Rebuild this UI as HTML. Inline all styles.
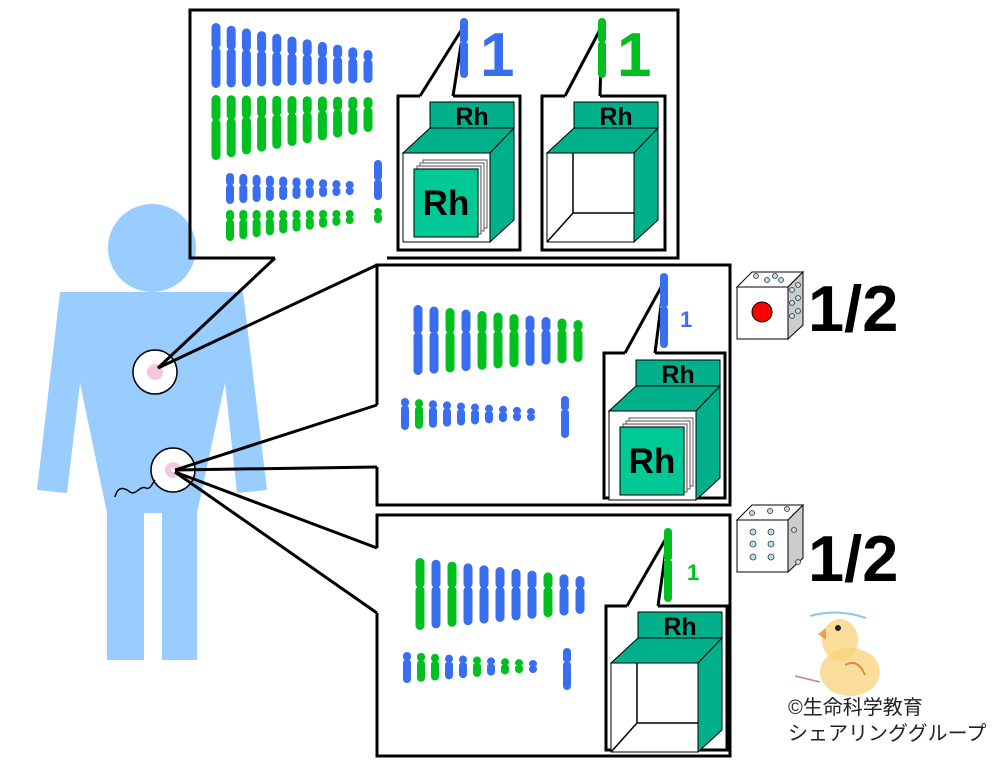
<!DOCTYPE html>
<html><head><meta charset="utf-8"><style>
html,body{margin:0;padding:0;background:#fff;}
svg{display:block;}
</style></head><body>
<svg id="s" width="997" height="769" viewBox="0 0 997 769" xmlns="http://www.w3.org/2000/svg" font-family="Liberation Sans, Noto Sans CJK JP, sans-serif">
<defs>
<g id="cubeFull">
  <rect x="32" y="6" width="84" height="26" fill="#00b08a" stroke="#000" stroke-width="1"/>
  <text x="74" y="29" font-size="25" font-weight="bold" text-anchor="middle">Rh</text>
  <polygon points="5,57 32,32 116,32 92,57" fill="#00b08a" stroke="#000"/>
  <rect x="5" y="57" width="87" height="89" fill="#fff" stroke="#000"/>
  <polygon points="92,57 116,32 116,124 92,146" fill="#00b08a" stroke="#000"/>
  <rect x="25" y="64" width="64" height="68" fill="#fff" stroke="#555"/>
  <rect x="22" y="67" width="64" height="68" fill="#fff" stroke="#555"/>
  <rect x="19" y="70" width="64" height="68" fill="#eee" stroke="#555"/>
  <rect x="16" y="73" width="64" height="68" fill="#00c896" stroke="#000"/>
  <text x="48" y="119" font-size="35" font-weight="bold" text-anchor="middle">Rh</text>
</g>
<g id="cubeEmpty">
  <rect x="32" y="6" width="84" height="26" fill="#00b08a" stroke="#000" stroke-width="1"/>
  <text x="74" y="29" font-size="25" font-weight="bold" text-anchor="middle">Rh</text>
  <rect x="5" y="57" width="87" height="89" fill="#fff" stroke="#000"/>
  <polyline points="31,57 31,117 92,117" fill="none" stroke="#000" stroke-width="1.5"/>
  <line x1="31" y1="117" x2="5" y2="146" stroke="#000" stroke-width="1.5"/>
  <polygon points="5,57 32,32 116,32 92,57" fill="#00b08a" stroke="#000"/>
  <polygon points="92,57 116,32 116,124 92,146" fill="#00b08a" stroke="#000"/>
</g>
</defs>
<g fill="#99ccff">
<circle cx="152" cy="248" r="44"/>
<polygon points="60,292 243,292 267,490 237,493 225,383 197,513 197,660 162,660 162,513 144,513 144,660 107,660 107,513 80,383 67,493 37,490"/>
</g>
<circle cx="155" cy="372" r="22" fill="#fff" stroke="#000" stroke-width="1.5"/>
<circle cx="155" cy="372" r="8" fill="#f6c6dc"/>
<circle cx="173" cy="470" r="22" fill="#fff" stroke="#000" stroke-width="1.5"/>
<circle cx="173" cy="470" r="8" fill="#f6c6dc"/><circle cx="173" cy="470" r="2" fill="#fff"/>
<path d="M115,497 C118,485 125,488 130,492 C136,496 140,485 146,488 C150,490 152,484 155,480" fill="none" stroke="#000" stroke-width="1.5"/>
<g fill="none" stroke="#000" stroke-width="3">
<polyline points="275,258 190,258 190,10 678,10 678,258 387,258"/>
<line x1="275" y1="258" x2="158" y2="368"/>
<line x1="377" y1="265" x2="158" y2="368"/>
<polyline points="377,405 377,265 730,265 730,505 377,505 377,467"/>
<line x1="377" y1="405" x2="175" y2="470"/>
<line x1="377" y1="467" x2="175" y2="470"/>
<polyline points="377,548 377,515 730,515 730,756 377,756 377,613"/>
<line x1="377" y1="548" x2="175" y2="472"/>
<line x1="377" y1="613" x2="175" y2="472"/>
<polyline points="420,96 398,96 398,250 520,250 520,96 453,96"/>
<line x1="420" y1="96" x2="464" y2="26"/><line x1="453" y1="96" x2="464" y2="26"/>
<polyline points="565,96 542,96 542,250 665,250 665,96 600,96"/>
<line x1="565" y1="96" x2="602" y2="26"/><line x1="600" y1="96" x2="602" y2="26"/>
<polyline points="625,353 604,353 604,498 725,498 725,353 655,353"/>
<line x1="625" y1="353" x2="664" y2="282"/><line x1="655" y1="353" x2="664" y2="282"/>
<polyline points="627,606 606,606 606,750 727,750 727,606 658,606"/>
<line x1="627" y1="606" x2="668" y2="535"/><line x1="658" y1="606" x2="668" y2="535"/>
</g>
<use href="#cubeFull" x="398" y="96"/>
<use href="#cubeEmpty" x="542" y="96"/>
<use href="#cubeFull" x="604" y="354"/>
<use href="#cubeEmpty" x="606" y="606"/>
<g id="chr"></g>
<text x="480" y="76" font-size="62" font-weight="bold" fill="#3a6ef0">1</text>
<text x="617" y="76" font-size="62" font-weight="bold" fill="#00c020">1</text>
<text x="680" y="327" font-size="22" font-weight="bold" fill="#3a6ef0">1</text>
<text x="687" y="580" font-size="22" font-weight="bold" fill="#00c020">1</text>
<g stroke="#000" stroke-width="1">
<polygon points="737,287 752,272 803,272 788,287" fill="#fff"/>
<polygon points="788,287 803,272 803,325 788,339" fill="#ccc"/>
<rect x="737" y="287" width="51" height="52" fill="#fff"/>
<circle cx="762" cy="312" r="10" fill="#f00"/>
<polygon points="737,520 752,505 803,505 788,520" fill="#fff"/>
<polygon points="788,520 803,505 803,558 788,572" fill="#ccc"/>
<rect x="737" y="520" width="51" height="52" fill="#fff"/>
</g>
<g fill="#bde" stroke="#333" stroke-width="0.8">
<circle cx="756" cy="276" r="2.5"/><circle cx="767" cy="280" r="2.5"/><circle cx="775" cy="276" r="2.5"/><circle cx="781" cy="280" r="2.5"/>
<circle cx="792" cy="290" r="2.5"/><circle cx="798" cy="285" r="2.5"/><circle cx="792" cy="303" r="2.5"/><circle cx="798" cy="298" r="2.5"/><circle cx="792" cy="316" r="2.5"/><circle cx="798" cy="311" r="2.5"/>
<circle cx="752" cy="513" r="2.5"/><circle cx="770" cy="511" r="2.5"/><circle cx="787" cy="509" r="2.5"/>
<circle cx="753" cy="532" r="3"/><circle cx="771" cy="532" r="3"/><circle cx="753" cy="544" r="3"/><circle cx="771" cy="544" r="3"/><circle cx="753" cy="557" r="3"/><circle cx="771" cy="557" r="3"/>
<circle cx="794" cy="530" r="2.5"/><circle cx="798" cy="562" r="2.5"/>
</g>
<text x="808" y="331" font-size="65" font-weight="bold">1/2</text>
<text x="808" y="581" font-size="65" font-weight="bold">1/2</text>
<ellipse cx="850" cy="672" rx="30" ry="24" fill="#f8d27a" opacity="0.75"/>
<ellipse cx="840" cy="640" rx="18" ry="21" fill="#f8d27a" opacity="0.75"/>
<polygon points="818,634 826,628 826,640" fill="#f5a040"/>
<circle cx="838" cy="628" r="3" fill="#222"/>
<path d="M810,616 Q838,608 866,618" stroke="#8cd" stroke-width="2" fill="none"/>
<path d="M845,665 Q858,658 865,675" stroke="#e08a40" stroke-width="2" fill="none"/>
<path d="M795,676 L820,682" stroke="#b88" stroke-width="1.5"/>
<text x="788" y="714" font-size="20" fill="#222">©生命科学教育</text>
<text x="788" y="740" font-size="20" fill="#222">シェアリンググループ</text>
</svg>
<script>
var g=document.getElementById('chr'),NS="http://www.w3.org/2000/svg";
var B="#3a6ef0",G="#00c020";
function seg(x,y1,y2,c,w){var l=document.createElementNS(NS,'line');l.setAttribute('x1',x);l.setAttribute('x2',x);l.setAttribute('y1',y1);l.setAttribute('y2',Math.max(y1+0.1,y2));l.setAttribute('stroke',c);l.setAttribute('stroke-width',w);l.setAttribute('stroke-linecap','round');g.appendChild(l);}
function chr(x,t,c,b,col,w){w=w||9;seg(x,t+w/2,c-w/2+1,col,w);seg(x,c+w/2-1,b-w/2,col,w);
 var r=document.createElementNS(NS,'rect');r.setAttribute('x',x-w/2);r.setAttribute('y',c-0.6);r.setAttribute('width',1.3);r.setAttribute('height',1.2);r.setAttribute('fill','#fff');g.appendChild(r);
 var r2=r.cloneNode();r2.setAttribute('x',x+w/2-1.3);g.appendChild(r2);}
function L(a,b2,i,n){return a+(b2-a)*i/(n-1);}
var i;
for(i=0;i<11;i++){var x=216+15.2*i;
 chr(x,L(23,50,i,11),L(48,60,i,11),L(88,83,i,11),B);
 chr(x,L(95,97,i,11),L(120,108,i,11),L(160,132,i,11),G);}
for(i=0;i<10;i++){var x=230+13.3*i;
 chr(x,173+L(0,8,i,10),L(185,188,i,10),L(204,195,i,10),B,8);
 chr(x,210,L(220,217,i,10),L(241,224,i,10),G,8);}
chr(378,160,180,200,B,8);chr(378,208,214,223,G,8);
chr(464,18,42,78,B,8);chr(602,18,42,78,G,8);
chr(664,273,307,348,B,8);chr(668,528,560,602,G,8);
var mc=[B,B,G,B,G,G,G,B,B,G,G];
for(i=0;i<11;i++){var x=418+16*i;chr(x,L(305,320,i,11),L(333,330,i,11),L(375,362,i,11),mc[i]);}
var ms=[B,G,B,B,B,B,B,B,B,B];
for(i=0;i<10;i++){var x=405+14*i;chr(x,L(398,408,i,10),L(406,414,i,10),L(430,420,i,10),ms[i],8);}
chr(565,396,410,438,B,8);
var bc=[G,B,G,B,B,B,B,B,G,B,B];
for(i=0;i<11;i++){var x=420+16*i;chr(x,L(558,576,i,11),L(587,588,i,11),L(630,614,i,11),bc[i]);}
var bs=[B,G,G,B,B,G,B,G,G,B];
for(i=0;i<10;i++){var x=407+14*i;chr(x,L(652,660,i,10),L(660,666,i,10),L(683,672,i,10),bs[i],8);}
chr(567,648,662,690,B,8);
</script>
</body></html>
